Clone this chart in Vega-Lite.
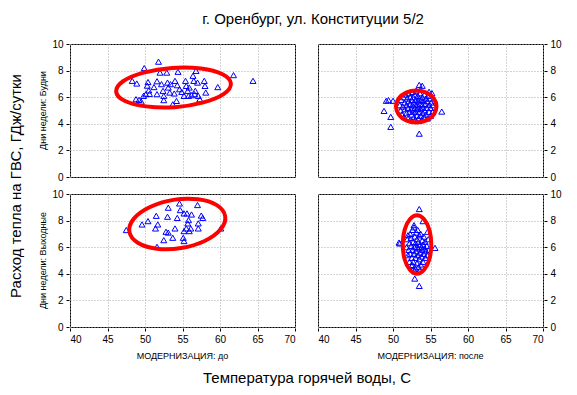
{
  "$schema": "https://vega.github.io/schema/vega-lite/v6.json",
  "padding": {"left": 8, "top": 12, "right": 5, "bottom": 5},
  "title": {"text": "г. Оренбург, ул. Конституции 5/2", "anchor": "middle", "frame": "bounds", "dx": 28, "fontSize": 15, "fontWeight": "normal", "color": "#000", "font": "Liberation Sans", "offset": 12},
  "data": {"values": [
    {"kind":"p","mod":"до","day":"Будни","t":48.3,"q":7.23},{"kind":"p","mod":"до","day":"Будни","t":48.9,"q":7.03},{"kind":"p","mod":"до","day":"Будни","t":48.8,"q":5.85},{"kind":"p","mod":"до","day":"Будни","t":49.2,"q":5.8},{"kind":"p","mod":"до","day":"Будни","t":49.5,"q":5.67},{"kind":"p","mod":"до","day":"Будни","t":49.9,"q":8.19},{"kind":"p","mod":"до","day":"Будни","t":49.8,"q":6.1},{"kind":"p","mod":"до","day":"Будни","t":50.1,"q":6.23},{"kind":"p","mod":"до","day":"Будни","t":50.4,"q":7.14},{"kind":"p","mod":"до","day":"Будни","t":50.3,"q":6.87},{"kind":"p","mod":"до","day":"Будни","t":50.5,"q":6.51},{"kind":"p","mod":"до","day":"Будни","t":50.6,"q":6.25},{"kind":"p","mod":"до","day":"Будни","t":51.2,"q":6.76},{"kind":"p","mod":"до","day":"Будни","t":51.6,"q":7.2},{"kind":"p","mod":"до","day":"Будни","t":51.6,"q":6.23},{"kind":"p","mod":"до","day":"Будни","t":51.8,"q":8.67},{"kind":"p","mod":"до","day":"Будни","t":52.0,"q":7.85},{"kind":"p","mod":"до","day":"Будни","t":52.2,"q":6.98},{"kind":"p","mod":"до","day":"Будни","t":52.4,"q":6.48},{"kind":"p","mod":"до","day":"Будни","t":52.5,"q":5.78},{"kind":"p","mod":"до","day":"Будни","t":52.5,"q":6.1},{"kind":"p","mod":"до","day":"Будни","t":52.9,"q":7.85},{"kind":"p","mod":"до","day":"Будни","t":53.0,"q":7.1},{"kind":"p","mod":"до","day":"Будни","t":53.1,"q":6.73},{"kind":"p","mod":"до","day":"Будни","t":53.3,"q":6.35},{"kind":"p","mod":"до","day":"Будни","t":53.4,"q":6.98},{"kind":"p","mod":"до","day":"Будни","t":53.7,"q":5.47},{"kind":"p","mod":"до","day":"Будни","t":53.9,"q":6.28},{"kind":"p","mod":"до","day":"Будни","t":54.0,"q":7.23},{"kind":"p","mod":"до","day":"Будни","t":54.2,"q":5.72},{"kind":"p","mod":"до","day":"Будни","t":54.3,"q":6.9},{"kind":"p","mod":"до","day":"Будни","t":54.4,"q":7.91},{"kind":"p","mod":"до","day":"Будни","t":54.6,"q":6.6},{"kind":"p","mod":"до","day":"Будни","t":54.9,"q":6.4},{"kind":"p","mod":"до","day":"Будни","t":55.2,"q":6.1},{"kind":"p","mod":"до","day":"Будни","t":55.4,"q":7.23},{"kind":"p","mod":"до","day":"Будни","t":55.5,"q":6.85},{"kind":"p","mod":"до","day":"Будни","t":55.7,"q":6.48},{"kind":"p","mod":"до","day":"Будни","t":55.8,"q":6.1},{"kind":"p","mod":"до","day":"Будни","t":55.9,"q":6.73},{"kind":"p","mod":"до","day":"Будни","t":56.2,"q":6.15},{"kind":"p","mod":"до","day":"Будни","t":56.4,"q":7.61},{"kind":"p","mod":"до","day":"Будни","t":56.5,"q":7.23},{"kind":"p","mod":"до","day":"Будни","t":56.7,"q":6.48},{"kind":"p","mod":"до","day":"Будни","t":56.8,"q":7.98},{"kind":"p","mod":"до","day":"Будни","t":57.0,"q":7.1},{"kind":"p","mod":"до","day":"Будни","t":57.1,"q":6.1},{"kind":"p","mod":"до","day":"Будни","t":57.3,"q":5.85},{"kind":"p","mod":"до","day":"Будни","t":57.9,"q":7.23},{"kind":"p","mod":"до","day":"Будни","t":58.0,"q":6.85},{"kind":"p","mod":"до","day":"Будни","t":58.1,"q":6.35},{"kind":"p","mod":"до","day":"Будни","t":59.7,"q":6.76},{"kind":"p","mod":"до","day":"Будни","t":61.8,"q":7.66},{"kind":"p","mod":"до","day":"Будни","t":64.4,"q":7.23},{"kind":"p","mod":"до","day":"Будни","t":56.6,"q":6.23},
    {"kind":"p","mod":"до","day":"Выходные","t":47.5,"q":7.29},{"kind":"p","mod":"до","day":"Выходные","t":49.6,"q":7.71},{"kind":"p","mod":"до","day":"Выходные","t":50.4,"q":7.96},{"kind":"p","mod":"до","day":"Выходные","t":51.4,"q":7.41},{"kind":"p","mod":"до","day":"Выходные","t":51.5,"q":8.36},{"kind":"p","mod":"до","day":"Выходные","t":51.7,"q":7.71},{"kind":"p","mod":"до","day":"Выходные","t":51.6,"q":6.03},{"kind":"p","mod":"до","day":"Выходные","t":52.5,"q":6.53},{"kind":"p","mod":"до","day":"Выходные","t":52.8,"q":7.16},{"kind":"p","mod":"до","day":"Выходные","t":53.0,"q":8.29},{"kind":"p","mod":"до","day":"Выходные","t":53.1,"q":8.97},{"kind":"p","mod":"до","day":"Выходные","t":53.1,"q":7.1},{"kind":"p","mod":"до","day":"Выходные","t":53.7,"q":6.71},{"kind":"p","mod":"до","day":"Выходные","t":54.0,"q":7.41},{"kind":"p","mod":"до","day":"Выходные","t":54.3,"q":8.2},{"kind":"p","mod":"до","day":"Выходные","t":54.6,"q":9.29},{"kind":"p","mod":"до","day":"Выходные","t":54.7,"q":8.79},{"kind":"p","mod":"до","day":"Выходные","t":55.2,"q":8.54},{"kind":"p","mod":"до","day":"Выходные","t":55.2,"q":7.21},{"kind":"p","mod":"до","day":"Выходные","t":55.1,"q":6.71},{"kind":"p","mod":"до","day":"Выходные","t":55.2,"q":6.46},{"kind":"p","mod":"до","day":"Выходные","t":55.6,"q":8.54},{"kind":"p","mod":"до","day":"Выходные","t":55.7,"q":7.79},{"kind":"p","mod":"до","day":"Выходные","t":55.8,"q":8.04},{"kind":"p","mod":"до","day":"Выходные","t":55.9,"q":7.21},{"kind":"p","mod":"до","day":"Выходные","t":56.2,"q":8.46},{"kind":"p","mod":"до","day":"Выходные","t":56.1,"q":7.41},{"kind":"p","mod":"до","day":"Выходные","t":57.0,"q":9.17},{"kind":"p","mod":"до","day":"Выходные","t":57.1,"q":7.79},{"kind":"p","mod":"до","day":"Выходные","t":57.1,"q":7.41},{"kind":"p","mod":"до","day":"Выходные","t":57.5,"q":8.38},{"kind":"p","mod":"до","day":"Выходные","t":57.7,"q":8.2},{"kind":"p","mod":"до","day":"Выходные","t":60.1,"q":7.41},{"kind":"p","mod":"до","day":"Выходные","t":55.5,"q":7.41},
    {"kind":"p","mod":"после","day":"Будни","t":50.9,"q":5.4},{"kind":"p","mod":"после","day":"Будни","t":51.0,"q":5.0},{"kind":"p","mod":"после","day":"Будни","t":51.1,"q":5.8},{"kind":"p","mod":"после","day":"Будни","t":51.2,"q":4.7},{"kind":"p","mod":"после","day":"Будни","t":51.3,"q":5.3},{"kind":"p","mod":"после","day":"Будни","t":51.4,"q":6.0},{"kind":"p","mod":"после","day":"Будни","t":51.5,"q":4.5},{"kind":"p","mod":"после","day":"Будни","t":51.5,"q":5.6},{"kind":"p","mod":"после","day":"Будни","t":51.6,"q":5.1},{"kind":"p","mod":"после","day":"Будни","t":51.7,"q":6.2},{"kind":"p","mod":"после","day":"Будни","t":51.8,"q":4.8},{"kind":"p","mod":"после","day":"Будни","t":51.8,"q":5.4},{"kind":"p","mod":"после","day":"Будни","t":51.9,"q":5.9},{"kind":"p","mod":"после","day":"Будни","t":52.0,"q":4.4},{"kind":"p","mod":"после","day":"Будни","t":52.0,"q":5.2},{"kind":"p","mod":"после","day":"Будни","t":52.1,"q":5.7},{"kind":"p","mod":"после","day":"Будни","t":52.1,"q":6.3},{"kind":"p","mod":"после","day":"Будни","t":52.2,"q":4.9},{"kind":"p","mod":"после","day":"Будни","t":52.3,"q":5.5},{"kind":"p","mod":"после","day":"Будни","t":52.3,"q":6.0},{"kind":"p","mod":"после","day":"Будни","t":52.4,"q":4.3},{"kind":"p","mod":"после","day":"Будни","t":52.4,"q":5.1},{"kind":"p","mod":"после","day":"Будни","t":52.5,"q":5.8},{"kind":"p","mod":"после","day":"Будни","t":52.5,"q":4.7},{"kind":"p","mod":"после","day":"Будни","t":52.6,"q":5.4},{"kind":"p","mod":"после","day":"Будни","t":52.6,"q":6.4},{"kind":"p","mod":"после","day":"Будни","t":52.7,"q":5.0},{"kind":"p","mod":"после","day":"Будни","t":52.7,"q":6.0},{"kind":"p","mod":"после","day":"Будни","t":52.8,"q":4.5},{"kind":"p","mod":"после","day":"Будни","t":52.8,"q":5.6},{"kind":"p","mod":"после","day":"Будни","t":52.9,"q":5.2},{"kind":"p","mod":"после","day":"Будни","t":52.9,"q":6.2},{"kind":"p","mod":"после","day":"Будни","t":53.0,"q":4.3},{"kind":"p","mod":"после","day":"Будни","t":53.0,"q":4.9},{"kind":"p","mod":"после","day":"Будни","t":53.0,"q":5.8},{"kind":"p","mod":"после","day":"Будни","t":53.1,"q":5.4},{"kind":"p","mod":"после","day":"Будни","t":53.1,"q":6.5},{"kind":"p","mod":"после","day":"Будни","t":53.2,"q":4.6},{"kind":"p","mod":"после","day":"Будни","t":53.2,"q":5.1},{"kind":"p","mod":"после","day":"Будни","t":53.3,"q":5.7},{"kind":"p","mod":"после","day":"Будни","t":53.3,"q":6.1},{"kind":"p","mod":"после","day":"Будни","t":53.4,"q":4.4},{"kind":"p","mod":"после","day":"Будни","t":53.4,"q":5.3},{"kind":"p","mod":"после","day":"Будни","t":53.5,"q":4.9},{"kind":"p","mod":"после","day":"Будни","t":53.5,"q":5.9},{"kind":"p","mod":"после","day":"Будни","t":53.6,"q":5.5},{"kind":"p","mod":"после","day":"Будни","t":53.6,"q":6.3},{"kind":"p","mod":"после","day":"Будни","t":53.7,"q":4.6},{"kind":"p","mod":"после","day":"Будни","t":53.7,"q":5.1},{"kind":"p","mod":"после","day":"Будни","t":53.8,"q":5.8},{"kind":"p","mod":"после","day":"Будни","t":53.8,"q":4.3},{"kind":"p","mod":"после","day":"Будни","t":53.9,"q":5.4},{"kind":"p","mod":"после","day":"Будни","t":53.9,"q":6.0},{"kind":"p","mod":"после","day":"Будни","t":54.0,"q":4.8},{"kind":"p","mod":"после","day":"Будни","t":54.0,"q":5.2},{"kind":"p","mod":"после","day":"Будни","t":54.1,"q":5.7},{"kind":"p","mod":"после","day":"Будни","t":54.1,"q":4.5},{"kind":"p","mod":"после","day":"Будни","t":54.2,"q":6.2},{"kind":"p","mod":"после","day":"Будни","t":54.2,"q":5.0},{"kind":"p","mod":"после","day":"Будни","t":54.3,"q":5.5},{"kind":"p","mod":"после","day":"Будни","t":54.4,"q":4.7},{"kind":"p","mod":"после","day":"Будни","t":54.4,"q":5.9},{"kind":"p","mod":"после","day":"Будни","t":54.5,"q":5.2},{"kind":"p","mod":"после","day":"Будни","t":54.6,"q":4.4},{"kind":"p","mod":"после","day":"Будни","t":54.6,"q":5.7},{"kind":"p","mod":"после","day":"Будни","t":54.7,"q":6.1},{"kind":"p","mod":"после","day":"Будни","t":54.8,"q":4.9},{"kind":"p","mod":"после","day":"Будни","t":54.8,"q":5.4},{"kind":"p","mod":"после","day":"Будни","t":54.9,"q":5.9},{"kind":"p","mod":"после","day":"Будни","t":55.0,"q":4.6},{"kind":"p","mod":"после","day":"Будни","t":55.0,"q":5.2},{"kind":"p","mod":"после","day":"Будни","t":55.1,"q":5.6},{"kind":"p","mod":"после","day":"Будни","t":55.2,"q":6.3},{"kind":"p","mod":"после","day":"Будни","t":55.3,"q":4.9},{"kind":"p","mod":"после","day":"Будни","t":55.3,"q":5.4},
    {"kind":"p","mod":"после","day":"Будни","t":49.1,"q":5.73},{"kind":"p","mod":"после","day":"Будни","t":49.4,"q":5.78},{"kind":"p","mod":"после","day":"Будни","t":50.0,"q":5.73},{"kind":"p","mod":"после","day":"Будни","t":48.8,"q":4.97},{"kind":"p","mod":"после","day":"Будни","t":49.7,"q":4.52},{"kind":"p","mod":"после","day":"Будни","t":49.7,"q":3.77},{"kind":"p","mod":"после","day":"Будни","t":53.5,"q":6.93},{"kind":"p","mod":"после","day":"Будни","t":53.9,"q":6.86},{"kind":"p","mod":"после","day":"Будни","t":54.8,"q":6.41},{"kind":"p","mod":"после","day":"Будни","t":56.5,"q":4.92},{"kind":"p","mod":"после","day":"Будни","t":53.5,"q":3.26},
    {"kind":"p","mod":"после","day":"Выходные","t":51.8,"q":6.0},{"kind":"p","mod":"после","day":"Выходные","t":51.9,"q":6.6},{"kind":"p","mod":"после","day":"Выходные","t":52.0,"q":5.4},{"kind":"p","mod":"после","day":"Выходные","t":52.0,"q":6.9},{"kind":"p","mod":"после","day":"Выходные","t":52.1,"q":5.8},{"kind":"p","mod":"после","day":"Выходные","t":52.2,"q":6.3},{"kind":"p","mod":"после","day":"Выходные","t":52.2,"q":4.9},{"kind":"p","mod":"после","day":"Выходные","t":52.3,"q":7.0},{"kind":"p","mod":"после","day":"Выходные","t":52.3,"q":5.5},{"kind":"p","mod":"после","day":"Выходные","t":52.4,"q":6.1},{"kind":"p","mod":"после","day":"Выходные","t":52.4,"q":6.7},{"kind":"p","mod":"после","day":"Выходные","t":52.5,"q":4.6},{"kind":"p","mod":"после","day":"Выходные","t":52.5,"q":5.2},{"kind":"p","mod":"после","day":"Выходные","t":52.6,"q":5.8},{"kind":"p","mod":"после","day":"Выходные","t":52.6,"q":7.3},{"kind":"p","mod":"после","day":"Выходные","t":52.7,"q":6.4},{"kind":"p","mod":"после","day":"Выходные","t":52.7,"q":4.9},{"kind":"p","mod":"после","day":"Выходные","t":52.8,"q":5.5},{"kind":"p","mod":"после","day":"Выходные","t":52.8,"q":7.5},{"kind":"p","mod":"после","day":"Выходные","t":52.9,"q":6.0},{"kind":"p","mod":"после","day":"Выходные","t":52.9,"q":6.8},{"kind":"p","mod":"после","day":"Выходные","t":53.0,"q":4.4},{"kind":"p","mod":"после","day":"Выходные","t":53.0,"q":5.2},{"kind":"p","mod":"после","day":"Выходные","t":53.0,"q":6.3},{"kind":"p","mod":"после","day":"Выходные","t":53.1,"q":5.7},{"kind":"p","mod":"после","day":"Выходные","t":53.1,"q":7.1},{"kind":"p","mod":"после","day":"Выходные","t":53.2,"q":4.8},{"kind":"p","mod":"после","day":"Выходные","t":53.2,"q":6.0},{"kind":"p","mod":"после","day":"Выходные","t":53.2,"q":6.6},{"kind":"p","mod":"после","day":"Выходные","t":53.3,"q":5.4},{"kind":"p","mod":"после","day":"Выходные","t":53.3,"q":7.3},{"kind":"p","mod":"после","day":"Выходные","t":53.4,"q":4.5},{"kind":"p","mod":"после","day":"Выходные","t":53.4,"q":5.9},{"kind":"p","mod":"после","day":"Выходные","t":53.4,"q":6.4},{"kind":"p","mod":"после","day":"Выходные","t":53.5,"q":5.1},{"kind":"p","mod":"после","day":"Выходные","t":53.5,"q":6.9},{"kind":"p","mod":"после","day":"Выходные","t":53.6,"q":5.6},{"kind":"p","mod":"после","day":"Выходные","t":53.6,"q":6.2},{"kind":"p","mod":"после","day":"Выходные","t":53.7,"q":4.7},{"kind":"p","mod":"после","day":"Выходные","t":53.7,"q":7.0},{"kind":"p","mod":"после","day":"Выходные","t":53.8,"q":5.3},{"kind":"p","mod":"после","day":"Выходные","t":53.8,"q":6.0},{"kind":"p","mod":"после","day":"Выходные","t":53.9,"q":6.5},{"kind":"p","mod":"после","day":"Выходные","t":53.9,"q":5.8},{"kind":"p","mod":"после","day":"Выходные","t":54.0,"q":4.9},{"kind":"p","mod":"после","day":"Выходные","t":54.0,"q":6.2},{"kind":"p","mod":"после","day":"Выходные","t":54.1,"q":5.5},{"kind":"p","mod":"после","day":"Выходные","t":54.1,"q":6.8},{"kind":"p","mod":"после","day":"Выходные","t":54.2,"q":5.9},{"kind":"p","mod":"после","day":"Выходные","t":54.3,"q":5.2},{"kind":"p","mod":"после","day":"Выходные","t":54.3,"q":6.4},{"kind":"p","mod":"после","day":"Выходные","t":54.4,"q":5.7},{"kind":"p","mod":"после","day":"Выходные","t":54.5,"q":6.1},{"kind":"p","mod":"после","day":"Выходные","t":54.6,"q":5.4},{"kind":"p","mod":"после","day":"Выходные","t":54.7,"q":6.6},{"kind":"p","mod":"после","day":"Выходные","t":54.8,"q":5.8},{"kind":"p","mod":"после","day":"Выходные","t":53.6,"q":4.3},{"kind":"p","mod":"после","day":"Выходные","t":52.9,"q":4.2},
    {"kind":"p","mod":"после","day":"Выходные","t":53.5,"q":8.87},{"kind":"p","mod":"после","day":"Выходные","t":54.0,"q":7.96},{"kind":"p","mod":"после","day":"Выходные","t":54.6,"q":7.16},{"kind":"p","mod":"после","day":"Выходные","t":50.9,"q":6.28},{"kind":"p","mod":"после","day":"Выходные","t":55.6,"q":5.95},{"kind":"p","mod":"после","day":"Выходные","t":52.9,"q":3.64},{"kind":"p","mod":"после","day":"Выходные","t":53.5,"q":3.09},{"kind":"p","mod":"после","day":"Выходные","t":52.6,"q":4.67},{"kind":"p","mod":"после","day":"Выходные","t":52.8,"q":7.66},{"kind":"p","mod":"после","day":"Выходные","t":50.8,"q":6.35},
    {"kind":"e","mod":"до","day":"Будни","k":0,"t":61.45,"q":7.03},{"kind":"e","mod":"до","day":"Будни","k":1,"t":60.52,"q":6.25},{"kind":"e","mod":"до","day":"Будни","k":2,"t":57.79,"q":5.61},{"kind":"e","mod":"до","day":"Будни","k":3,"t":53.99,"q":5.25},{"kind":"e","mod":"до","day":"Будни","k":4,"t":50.13,"q":5.31},{"kind":"e","mod":"до","day":"Будни","k":5,"t":47.27,"q":5.73},{"kind":"e","mod":"до","day":"Будни","k":6,"t":46.15,"q":6.43},{"kind":"e","mod":"до","day":"Будни","k":7,"t":47.08,"q":7.2},{"kind":"e","mod":"до","day":"Будни","k":8,"t":49.81,"q":7.85},{"kind":"e","mod":"до","day":"Будни","k":9,"t":53.61,"q":8.2},{"kind":"e","mod":"до","day":"Будни","k":10,"t":57.47,"q":8.15},{"kind":"e","mod":"до","day":"Будни","k":11,"t":60.33,"q":7.72},
    {"kind":"e","mod":"до","day":"Выходные","k":0,"t":60.69,"q":8.33},{"kind":"e","mod":"до","day":"Выходные","k":1,"t":60.09,"q":7.35},{"kind":"e","mod":"до","day":"Выходные","k":2,"t":57.95,"q":6.47},{"kind":"e","mod":"до","day":"Выходные","k":3,"t":54.83,"q":5.94},{"kind":"e","mod":"до","day":"Выходные","k":4,"t":51.56,"q":5.89},{"kind":"e","mod":"до","day":"Выходные","k":5,"t":49.04,"q":6.34},{"kind":"e","mod":"до","day":"Выходные","k":6,"t":47.92,"q":7.16},{"kind":"e","mod":"до","day":"Выходные","k":7,"t":48.52,"q":8.15},{"kind":"e","mod":"до","day":"Выходные","k":8,"t":50.67,"q":9.02},{"kind":"e","mod":"до","day":"Выходные","k":9,"t":53.79,"q":9.56},{"kind":"e","mod":"до","day":"Выходные","k":10,"t":57.05,"q":9.6},{"kind":"e","mod":"до","day":"Выходные","k":11,"t":59.57,"q":9.16},
    {"kind":"e","mod":"после","day":"Будни","k":0,"t":55.8,"q":5.3},{"kind":"e","mod":"после","day":"Будни","k":1,"t":55.44,"q":5.9},{"kind":"e","mod":"после","day":"Будни","k":2,"t":54.45,"q":6.34},{"kind":"e","mod":"после","day":"Будни","k":3,"t":53.1,"q":6.5},{"kind":"e","mod":"после","day":"Будни","k":4,"t":51.75,"q":6.34},{"kind":"e","mod":"после","day":"Будни","k":5,"t":50.76,"q":5.9},{"kind":"e","mod":"после","day":"Будни","k":6,"t":50.4,"q":5.3},{"kind":"e","mod":"после","day":"Будни","k":7,"t":50.76,"q":4.7},{"kind":"e","mod":"после","day":"Будни","k":8,"t":51.75,"q":4.26},{"kind":"e","mod":"после","day":"Будни","k":9,"t":53.1,"q":4.1},{"kind":"e","mod":"после","day":"Будни","k":10,"t":54.45,"q":4.26},{"kind":"e","mod":"после","day":"Будни","k":11,"t":55.44,"q":4.7},
    {"kind":"e","mod":"после","day":"Выходные","k":0,"t":55.1,"q":6.2},{"kind":"e","mod":"после","day":"Выходные","k":1,"t":54.85,"q":7.3},{"kind":"e","mod":"после","day":"Выходные","k":2,"t":54.15,"q":8.1},{"kind":"e","mod":"после","day":"Выходные","k":3,"t":53.2,"q":8.4},{"kind":"e","mod":"после","day":"Выходные","k":4,"t":52.25,"q":8.1},{"kind":"e","mod":"после","day":"Выходные","k":5,"t":51.55,"q":7.3},{"kind":"e","mod":"после","day":"Выходные","k":6,"t":51.3,"q":6.2},{"kind":"e","mod":"после","day":"Выходные","k":7,"t":51.55,"q":5.1},{"kind":"e","mod":"после","day":"Выходные","k":8,"t":52.25,"q":4.3},{"kind":"e","mod":"после","day":"Выходные","k":9,"t":53.2,"q":4.0},{"kind":"e","mod":"после","day":"Выходные","k":10,"t":54.15,"q":4.3},{"kind":"e","mod":"после","day":"Выходные","k":11,"t":54.85,"q":5.1}
  ]},
  "facet": {
    "row": {"field": "day", "type": "nominal", "title": "Расход тепла на ГВС, ГДж/сутки",
      "header": {"labelOrient": "left", "labelAngle": -90, "labelExpr": "'Дни недели: ' + datum.value", "labelFontSize": 9, "labelPadding": 0, "titleOrient": "left", "titleAngle": -90, "titleFontSize": 15, "titleFontWeight": "normal", "titlePadding": -11}},
    "column": {"field": "mod", "type": "nominal", "title": "Температура горячей воды, С",
      "header": {"labelOrient": "bottom", "labelExpr": "'МОДЕРНИЗАЦИЯ: ' + datum.value", "labelFontSize": 9, "labelPadding": 8, "titleOrient": "bottom", "titleFontSize": 15, "titleFontWeight": "normal", "titlePadding": 0}}
  },
  "spacing": {"row": 12, "column": 21},
  "spec": {
    "width": 225,
    "height": 133,
    "layer": [
      {
        "transform": [{"filter": "datum.kind === 'p'"}],
        "mark": {"type": "point", "shape": "triangle-up", "filled": false, "color": "#0000ff", "size": 36, "strokeWidth": 1, "opacity": 1},
        "encoding": {
          "x": {"field": "t", "type": "quantitative", "scale": {"domain": [40, 70], "nice": false}, "axis": {"values": [40,45,50,55,60,65,70], "grid": true}},
          "y": {"field": "q", "type": "quantitative", "scale": {"domain": [0, 10], "nice": false}, "axis": {"orient": "left", "values": [0,2,4,6,8,10], "grid": true}}
        }
      },
      {
        "transform": [{"filter": "datum.kind === 'e'"}],
        "mark": {"type": "line", "interpolate": "cardinal-closed", "color": "#ff0000", "strokeWidth": 4},
        "encoding": {
          "x": {"field": "t", "type": "quantitative", "axis": {"values": [40,45,50,55,60,65,70], "grid": true}},
          "y": {"field": "q", "type": "quantitative", "axis": {"orient": "right", "values": [0,2,4,6,8,10], "grid": false}},
          "order": {"field": "k", "type": "quantitative"}
        }
      }
    ]
  },
  "config": {
    "font": "Liberation Sans",
    "background": "#ffffff",
    "view": {"stroke": "#000000", "strokeWidth": 1},
    "axis": {"domain": false, "title": null, "gridColor": "#a8a8a8", "gridDash": [1, 2], "gridWidth": 1, "tickColor": "#000000", "tickSize": 3, "labelColor": "#000000", "labelFontSize": 10, "labelPadding": 3},
    "header": {"labelColor": "#000000", "titleColor": "#000000", "labelFont": "Liberation Sans", "titleFont": "Liberation Sans"}
  }
}
